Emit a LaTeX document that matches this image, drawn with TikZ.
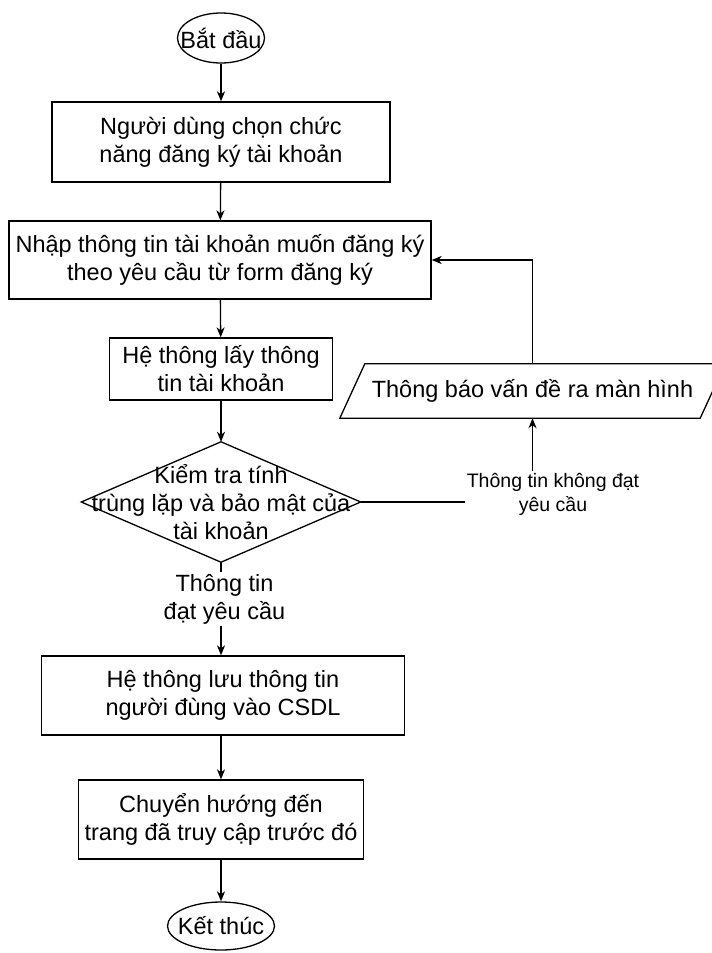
\documentclass[tikz,border=0pt]{standalone}
\usepackage{fontspec}
\setmainfont{Liberation Sans}
\usetikzlibrary{arrows.meta,shapes.geometric}

\tikzset{
  base/.style={font=\fontsize{23.5}{28}\selectfont, align=center, text=black},
  proc/.style={base, draw=black, line width=1.3pt, rectangle, inner sep=0pt},
  term/.style={base, draw=black, line width=1.3pt, ellipse, inner sep=0pt},
  frame/.style={base, rectangle, inner sep=0pt},
  edgelabel/.style={base, fill=white, inner sep=2pt},
  smalllabel/.style={font=\fontsize{19.5}{24}\selectfont, align=center, fill=white, inner sep=2pt},
  flow/.style={draw=black, line width=1.3pt, -{Stealth[length=10pt,width=8pt,inset=3pt]}},
  plain/.style={draw=black, line width=1.3pt},
}

\begin{document}
\begin{tikzpicture}[x=1pt,y=-1pt]
  \clip (0,0) rectangle (712,953);
  \fill[white] (0,0) rectangle (712,953);

  % main column of steps
  \node[term, minimum width=87, minimum height=50] (start) at (221,38) {\makebox[0pt]{Bắt đầu}};
  \node[proc, minimum width=338, minimum height=80] (choose) at (221,142)
    {Người dùng chọn chức\\năng đăng ký tài khoản};
  \node[proc, minimum width=422, minimum height=78] (input) at (220,260)
    {Nhập thông tin tài khoản muốn đăng ký\\theo yêu cầu từ form đăng ký};
  \node[proc, minimum width=223, minimum height=62] (fetch) at (221,369)
    {Hệ thông lấy thông\\tin tài khoản};
  \node[frame, minimum width=279, minimum height=120] (check) at (221,502)
    {Kiểm tra tính\\trùng lặp và bảo mật của\\tài khoản};
  \draw[plain] (check.north) -- (check.east) -- (check.south) -- (check.west) -- cycle;
  \node[proc, minimum width=363, minimum height=79] (save) at (223,695.5)
    {Hệ thông lưu thông tin\\người đùng vào CSDL};
  \node[proc, minimum width=285, minimum height=79] (redirect) at (221,819.5)
    {Chuyển hướng đến\\trang đã truy cập trước đó};
  \node[term, minimum width=107, minimum height=48] (stop) at (221,926) {\makebox[0pt]{Kết thúc}};

  % error message (parallelogram)
  \node[frame, minimum width=360, minimum height=54] (notify) at (532.5,391)
    {Thông báo vấn đề ra màn hình};
  \draw[plain] ([xshift=-12.5pt]notify.south west) -- ([xshift=-12.5pt]notify.south east)
    -- ([xshift=12.5pt]notify.north east) -- ([xshift=12.5pt]notify.north west) -- cycle;

  % connectors
  \draw[flow] (start) -- (choose);
  \draw[flow] (choose) -- (input);
  \draw[flow] (input) -- (fetch);
  \draw[flow] (fetch.south) -- (check.north);
  \draw[flow] (check.south) -- (save.north -| check.south);
  \draw[flow] (save.south -| redirect.north) -- (redirect);
  \draw[flow] (redirect) -- (stop);
  \draw[flow] (check.east) -| (notify.south);
  \draw[flow] (notify.north) |- (input.east);

  % edge labels
  \node[edgelabel] (ok) at (224.5,599) {Thông tin\\đạt yêu cầu};
  \node[smalllabel] (fail) at (553,494) {Thông tin không đạt\\yêu cầu};
\end{tikzpicture}
\end{document}
